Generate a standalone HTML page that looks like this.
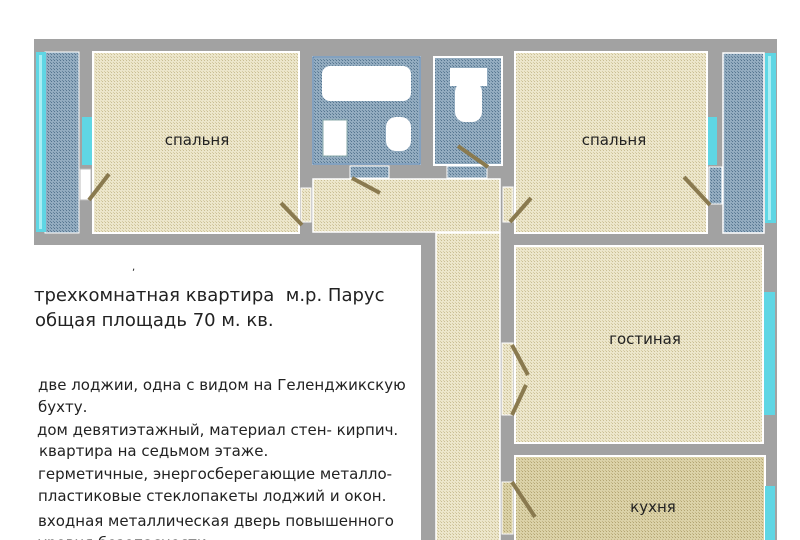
<!DOCTYPE html>
<html><head><meta charset="utf-8"><style>
html,body{margin:0;padding:0;background:#fff;width:800px;height:540px;overflow:hidden}
svg{display:block}
.t{font-family:"DejaVu Sans","Liberation Sans",sans-serif;fill:#222}
</style></head><body>
<svg width="800" height="540" viewBox="0 0 800 540" xmlns="http://www.w3.org/2000/svg">
<defs>
<pattern id="be" width="3" height="3" patternUnits="userSpaceOnUse">
<rect width="3" height="3" fill="#ece6cb"/><rect width="1" height="1" fill="#c9be93"/><rect x="2" y="2" width="1" height="1" fill="#d6cca4"/>
</pattern>
<pattern id="ki" width="3" height="3" patternUnits="userSpaceOnUse">
<rect width="3" height="3" fill="#dbd2a8"/><rect width="1" height="1" fill="#b3a572"/><rect x="2" y="2" width="1" height="1" fill="#c4b786"/>
</pattern>
<pattern id="bl" width="3" height="3" patternUnits="userSpaceOnUse">
<rect width="3" height="3" fill="#93acc0"/><rect width="1" height="1" fill="#55758f"/><rect x="2" y="2" width="1" height="1" fill="#66849c"/>
</pattern>
</defs>
<rect x="34" y="39" width="743" height="206" fill="#a2a2a2"/>
<rect x="421" y="230" width="356" height="310" fill="#a2a2a2"/>
<rect x="34" y="245" width="387" height="295" fill="#fff"/>
<rect x="45" y="52" width="34" height="181" fill="url(#bl)" stroke="#fff" stroke-width="1"/>
<rect x="36" y="52" width="10" height="180" fill="#5fd6e4"/>
<rect x="39" y="55" width="3" height="174" fill="#a8eef4"/>
<rect x="82" y="117" width="10" height="48" fill="#5fd6e4"/>
<rect x="80" y="169" width="11" height="31" fill="#fff" stroke="#bbb"/>
<rect x="93" y="52" width="206" height="181" fill="url(#be)" stroke="#fff" stroke-width="2"/>
<rect x="313" y="57" width="107" height="107" fill="url(#bl)" stroke="#fff" stroke-width="2"/>
<rect x="313" y="57" width="107" height="107" fill="none" stroke="#5a82aa" stroke-width="1.5"/>
<rect x="322" y="66" width="89" height="35" rx="8" fill="#fff"/>
<rect x="323" y="120" width="24" height="36" fill="#fff" stroke="#8aa"/>
<rect x="386" y="117" width="25" height="34" rx="10" fill="#fff"/>
<rect x="350" y="166" width="39" height="12" fill="url(#bl)" stroke="#fff"/>
<rect x="434" y="57" width="68" height="108" fill="url(#bl)" stroke="#fff" stroke-width="2"/>
<rect x="450" y="68" width="37" height="18" fill="#fff"/>
<rect x="455" y="82" width="27" height="40" rx="10" fill="#fff"/>
<rect x="447" y="166" width="40" height="12" fill="url(#bl)" stroke="#fff"/>
<rect x="313" y="179" width="187" height="53" fill="url(#be)" stroke="#fff" stroke-width="1.5"/>
<rect x="301" y="188" width="10" height="34" fill="url(#be)" stroke="#fff"/>
<rect x="503" y="187" width="10" height="35" fill="url(#be)" stroke="#fff"/>
<rect x="515" y="52" width="192" height="181" fill="url(#be)" stroke="#fff" stroke-width="2"/>
<rect x="708" y="117" width="9" height="48" fill="#5fd6e4"/>
<rect x="709" y="167" width="13" height="37" fill="url(#bl)" stroke="#fff"/>
<rect x="723" y="53" width="41" height="180" fill="url(#bl)" stroke="#fff" stroke-width="1.5"/>
<rect x="765" y="53" width="11" height="170" fill="#5fd6e4"/>
<rect x="768" y="56" width="3" height="164" fill="#a8eef4"/>
<rect x="436" y="233" width="64" height="310" fill="url(#be)" stroke="#fff" stroke-width="1.5"/>
<rect x="515" y="246" width="248" height="197" fill="url(#be)" stroke="#fff" stroke-width="2"/>
<rect x="764" y="292" width="11" height="123" fill="#5fd6e4"/>
<rect x="502" y="343" width="11" height="72" fill="url(#be)" stroke="#fff"/>
<rect x="515" y="456" width="250" height="90" fill="url(#ki)" stroke="#fff" stroke-width="2"/>
<rect x="765" y="486" width="10" height="60" fill="#5fd6e4"/>
<rect x="502" y="482" width="11" height="52" fill="url(#ki)" stroke="#fff"/>
<g stroke="#8a7a4f" stroke-width="4" stroke-linecap="butt">
<line x1="89" y1="200" x2="109" y2="174"/>
<line x1="281" y1="203" x2="302" y2="225"/>
<line x1="352" y1="178" x2="380" y2="193"/>
<line x1="458" y1="146" x2="488" y2="167"/>
<line x1="510" y1="222" x2="531" y2="198"/>
<line x1="684" y1="177" x2="710" y2="205"/>
<line x1="512" y1="345" x2="528" y2="375"/>
<line x1="512" y1="415" x2="526" y2="385"/>
<line x1="512" y1="482" x2="535" y2="517"/>
</g>
<text class="t" x="197" y="145" font-size="15" text-anchor="middle">спальня</text>
<text class="t" x="614" y="145" font-size="15" text-anchor="middle">спальня</text>
<text class="t" x="645" y="344" font-size="15" text-anchor="middle">гостиная</text>
<text class="t" x="653" y="512" font-size="15" text-anchor="middle">кухня</text>
<text class="t" x="132" y="270" font-size="10">,</text>
<text class="t" x="34" y="301" font-size="18">трехкомнатная квартира&#160; м.р. Парус</text>
<text class="t" x="35" y="326" font-size="18">общая площадь 70 м. кв.</text>
<g font-size="15">
<text class="t" x="38" y="390">две лоджии, одна с видом на Геленджикскую</text>
<text class="t" x="38" y="412">бухту.</text>
<text class="t" x="37" y="435">дом девятиэтажный, материал стен- кирпич.</text>
<text class="t" x="39" y="456">квартира на седьмом этаже.</text>
<text class="t" x="38" y="479">герметичные, энергосберегающие металло-</text>
<text class="t" x="38" y="501">пластиковые стеклопакеты лоджий и окон.</text>
<text class="t" x="38" y="526">входная металлическая дверь повышенного</text>
<text class="t" x="38" y="548">уровня безопасности.</text>
</g>
</svg>
</body></html>
